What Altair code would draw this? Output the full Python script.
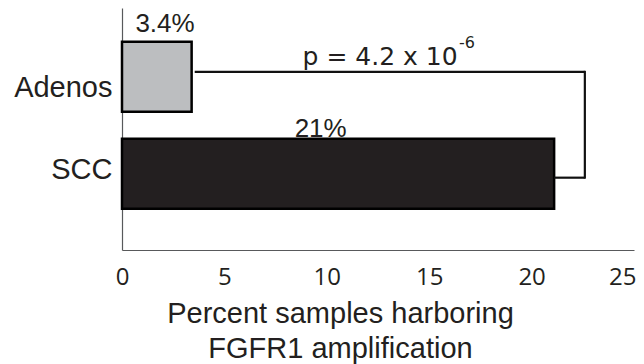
import altair as alt
import pandas as pd

# ---- data ----
categories = ["Adenos", "SCC"]
pct = [3.4, 21.1]
pct_labels = ["3.4%", "21%"]
pct_label_x = [2.1, 9.7]          # label centres, in percent units
x_ticks = [0, 5, 10, 15, 20, 25]
bracket_left = 3.55               # bracket start (just right of Adenos bar)
bracket_right = 22.6              # vertical arm of bracket
p_text = "p = 4.2 x 10"
p_exp = "-6"
p_text_x = 12.6
p_exp_x = 16.45
x_title = ["Percent samples harboring", "FGFR1 amplification"]

TXT = "#231f20"
bars_df = pd.DataFrame({"cat": categories, "pct": pct, "lab": pct_labels, "lx": pct_label_x})

yscale = alt.Scale(domain=categories, paddingInner=0.278, paddingOuter=0.388, align=0.45)
xscale = alt.Scale(domain=[0, 25], nice=False)

base = alt.Chart(bars_df)

bars = base.mark_bar(stroke="#000000", strokeWidth=2.5).encode(
    x=alt.X("pct:Q", scale=xscale,
            axis=alt.Axis(values=x_ticks, grid=False, ticks=False, tickSize=0,
                          domainColor="#58595b", domainWidth=1.2,
                          labelFont="Open Sans", labelFontSize=24, labelColor=TXT,
                          labelPadding=15, labelFlush=False, labelOverlap=False,
                          labelAlign={"condition": {"test": "datum.value === 25", "value": "right"},
                                      "value": "center"},
                          labelOffset={"condition": {"test": "datum.value === 25", "value": 2},
                                       "value": 0},
                          title=x_title, titleFont="Liberation Sans", titleFontSize=29,
                          titleFontWeight="normal", titleColor=TXT, titleLineHeight=35,
                          titleX=218, titleY=49, titleBaseline="top", titleAlign="center")),
    y=alt.Y("cat:N", scale=yscale, sort=categories,
            axis=alt.Axis(title=None, ticks=False, tickSize=0, domainColor="#58595b",
                          domainWidth=1.2, labelFont="Liberation Sans", labelFontSize=29,
                          labelColor=TXT, labelPadding=10,
                          labelOffset={"condition": {"test": "datum.value === 'Adenos'", "value": 11},
                                       "value": -4})),
    color=alt.Color("cat:N", scale=alt.Scale(domain=categories, range=["#bcbec0", "#231f20"]),
                    legend=None),
)

lab_a = base.transform_filter(alt.datum.cat == categories[0]).mark_text(
    font="Liberation Sans", fontSize=26, color=TXT, baseline="alphabetic", dy=-45
).encode(x=alt.X("lx:Q", scale=xscale), y=alt.Y("cat:N", scale=yscale, sort=categories), text="lab:N")

lab_s = base.transform_filter(alt.datum.cat == categories[1]).mark_text(
    font="Liberation Sans", fontSize=26, color=TXT, baseline="alphabetic", dy=-37
).encode(x=alt.X("lx:Q", scale=xscale), y=alt.Y("cat:N", scale=yscale, sort=categories), text="lab:N")

br_df = pd.DataFrame({
    "x": [bracket_left], "x2": [bracket_right],
    "xb": [pct[1]], "c1": [categories[0]], "c2": [categories[1]],
    "xr": [bracket_right],
})
br = alt.Chart(br_df)
br_top = br.mark_rule(color="#111111", strokeWidth=2.2, yOffset=-5).encode(
    x=alt.X("x:Q", scale=xscale), x2="x2:Q", y=alt.Y("c1:N", scale=yscale, sort=categories))
br_bot = br.mark_rule(color="#111111", strokeWidth=2.2, yOffset=4).encode(
    x=alt.X("xb:Q", scale=xscale), x2="xr:Q", y=alt.Y("c2:N", scale=yscale, sort=categories))
br_vert = br.mark_rule(color="#111111", strokeWidth=2.2, yOffset=-6, y2Offset=5).encode(
    x=alt.X("xr:Q", scale=xscale), y=alt.Y("c1:N", scale=yscale, sort=categories), y2="c2:N")

p_df = pd.DataFrame({"t": [p_text], "e": [p_exp], "x": [p_text_x], "xe": [p_exp_x], "c": [categories[0]]})
pc = alt.Chart(p_df)
p_main = pc.mark_text(font="DejaVu Sans", fontSize=25, color=TXT, baseline="alphabetic",
                      align="center", dy=-12).encode(
    x=alt.X("x:Q", scale=xscale), y=alt.Y("c:N", scale=yscale, sort=categories), text="t:N")
p_sup = pc.mark_text(font="DejaVu Sans", fontSize=16, color=TXT, baseline="alphabetic",
                     align="left", dy=-29).encode(
    x=alt.X("xe:Q", scale=xscale), y=alt.Y("c:N", scale=yscale, sort=categories), text="e:N")

chart = alt.layer(bars, lab_a, lab_s, br_top, br_bot, br_vert, p_main, p_sup).properties(
    width=512, height=242,
    autosize=alt.AutoSizeParams(type="none"),
    padding={"left": 114, "top": 0, "right": 2, "bottom": 114},
).configure_view(stroke=None)

chart.save("out.html", embed_options={"renderer": "svg", "actions": False})
